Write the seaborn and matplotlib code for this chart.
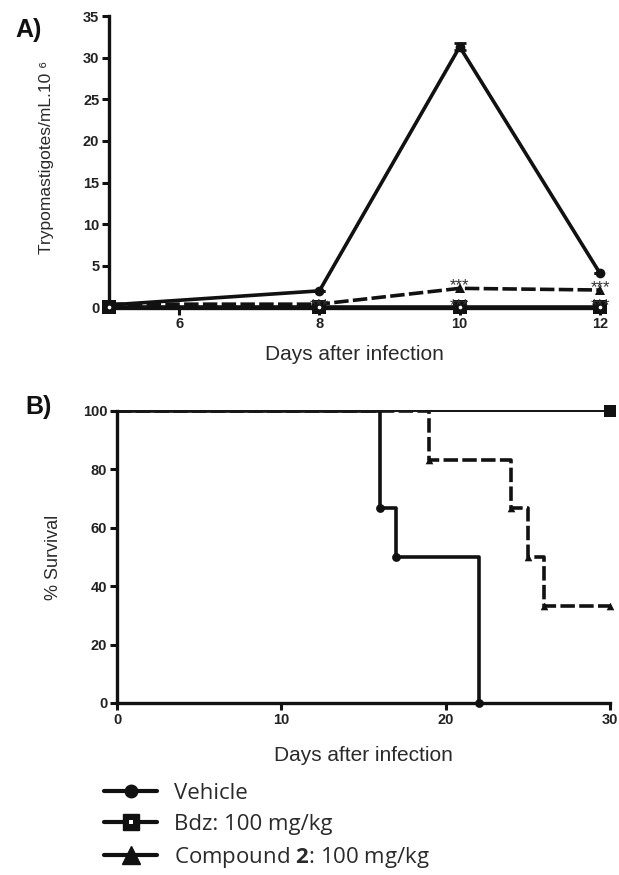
import numpy as np
import pandas as pd
import matplotlib
matplotlib.use("Agg")
import matplotlib.pyplot as plt
import seaborn as sns
from matplotlib.lines import Line2D
from matplotlib.patches import Rectangle

# ---------------- data ----------------
days_a = [5, 8, 10, 12]
vehicle_a = [0.3, 2.0, 31.3, 4.1]
vehicle_err = [0.0, 0.0, 0.4, 0.0]
bdz_a = [0.05, 0.05, 0.05, 0.05]
compound_a = [0.4, 0.4, 2.3, 2.1]
star_days_bdz = [8, 10, 12]
star_days_comp = [10, 12]

surv_vehicle_t = [0, 16, 17, 22]
surv_vehicle = [100, 66.7, 50, 0]
surv_bdz_t = [0, 30]
surv_bdz = [100, 100]
surv_comp_t = [0, 19, 24, 25, 26, 30]
surv_comp = [100, 83.3, 66.7, 50, 33.3, 33.3]

xticks_a = [6, 8, 10, 12]
yticks_a = [0, 5, 10, 15, 20, 25, 30, 35]
xticks_b = [0, 10, 20, 30]
yticks_b = [0, 20, 40, 60, 80, 100]

legend_labels = ["Vehicle", "Bdz: 100 mg/kg", "Compound $\\mathbf{2}$: 100 mg/kg"]

# ---------------- style ----------------
sns.set_theme(style="ticks")
plt.rcParams["font.family"] = ["Liberation Sans", "DejaVu Sans"]
plt.rcParams["mathtext.fontset"] = "custom"
plt.rcParams["mathtext.rm"] = "Open Sans"
plt.rcParams["mathtext.bf"] = "Open Sans:bold"
INK = "#111111"
LAB = "#2a2a2a"
STAR = "#333333"

fig = plt.figure(figsize=(6.19, 8.75), dpi=100)
W, H = 619, 875
axA = fig.add_axes([109 / W, 1 - 307.5 / H, (600 - 109) / W, (307.5 - 16) / H])
axB = fig.add_axes([117 / W, 1 - 703 / H, (610 - 117) / W, (703 - 411) / H])

# ---------------- panel A ----------------
sns.lineplot(x=days_a, y=bdz_a, ax=axA, color=INK, lw=2.6, marker="s",
             markersize=10, markeredgewidth=0, clip_on=False, zorder=4)
sns.scatterplot(x=days_a, y=bdz_a, ax=axA, color="white", marker="o", s=7,
                linewidth=0, clip_on=False, zorder=6)
sns.lineplot(x=days_a, y=compound_a, ax=axA, color=INK, lw=2.6, marker="^",
             markersize=7, markeredgewidth=0, linestyle=(0, (4, 1.2)),
             clip_on=False, zorder=3)
sns.lineplot(x=days_a, y=vehicle_a, ax=axA, color=INK, lw=2.6, marker="o",
             markersize=7, markeredgewidth=0, clip_on=False, zorder=3)
axA.errorbar(days_a, vehicle_a, yerr=vehicle_err, fmt="none", ecolor=INK,
             elinewidth=2, capsize=4, capthick=2, zorder=3)

for d in star_days_bdz:
    i = days_a.index(d)
    axA.annotate("***", (d, bdz_a[i]), xytext=(0, -2.5), textcoords="offset points",
                 ha="center", va="baseline", fontsize=12, color=STAR, zorder=7)
for d in star_days_comp:
    i = days_a.index(d)
    axA.annotate("***", (d, compound_a[i]), xytext=(0, -1.5),
                 textcoords="offset points", ha="center", va="baseline",
                 fontsize=12, color=STAR, zorder=7)

axA.set_xlim(5, 12)
axA.set_ylim(0, 35)
axA.set_xticks(xticks_a)
axA.set_yticks(yticks_a)
axA.set_xlabel("Days after infection", fontsize=15, color=LAB, labelpad=10)
axA.set_ylabel("Trypomastigotes/mL.10 \u2076", fontsize=12.5, color=LAB)
axA.yaxis.set_label_coords(-0.112, 0.514)

# ---------------- panel B ----------------
clip_top = Rectangle((-5, -10), 40, 109.5, transform=axB.transData)

sns.lineplot(x=surv_comp_t, y=surv_comp, ax=axB, color=INK, lw=2.6,
             drawstyle="steps-post", estimator=None, linestyle=(0, (4, 1.2)),
             zorder=3)
sns.lineplot(x=surv_vehicle_t, y=surv_vehicle, ax=axB, color=INK, lw=2.6,
             drawstyle="steps-post", estimator=None, zorder=3)
for ln in axB.lines:
    ln.set_clip_on(True)
    ln.set_clip_path(clip_top)
sns.lineplot(x=surv_bdz_t, y=surv_bdz, ax=axB, color=INK, lw=1.4,
             drawstyle="steps-post", estimator=None, clip_on=False, zorder=4)
sns.scatterplot(x=surv_bdz_t[-1:], y=surv_bdz[-1:], ax=axB, color=INK,
                marker="s", s=70, linewidth=0, clip_on=False, zorder=5)
sns.scatterplot(x=surv_comp_t[1:], y=surv_comp[1:], ax=axB, color=INK,
                marker="^", s=30, linewidth=0, clip_on=False, zorder=5)
sns.scatterplot(x=surv_vehicle_t[1:], y=surv_vehicle[1:], ax=axB, color=INK,
                marker="o", s=40, linewidth=0, clip_on=False, zorder=5)

axB.set_xlim(0, 30)
axB.set_ylim(0, 100)
axB.set_xticks(xticks_b)
axB.set_yticks(yticks_b)
axB.set_xlabel("Days after infection", fontsize=15, color=LAB, labelpad=14)
axB.set_ylabel("% Survival", fontsize=13, color=LAB)
axB.yaxis.set_label_coords(-0.112, 0.5)

for ax in (axA, axB):
    sns.despine(ax=ax)
    for s in ("left", "bottom"):
        ax.spines[s].set_linewidth(2.4)
        ax.spines[s].set_color(INK)
    ax.tick_params(direction="out", length=5, width=2.2, color=INK,
                   labelsize=10.5, labelcolor="#222222", pad=2)
    for lbl in ax.get_xticklabels() + ax.get_yticklabels():
        lbl.set_fontweight("bold")

fig.text(15 / W, 1 - 30 / H, "A)", fontsize=18, fontweight="bold", va="center", color=INK)
fig.text(25 / W, 1 - 407 / H, "B)", fontsize=18, fontweight="bold", va="center", color=INK)

# ---------------- legend ----------------
h_vehicle = Line2D([], [], color=INK, lw=3, marker="o", markersize=9)
h_bdz = (Line2D([], [], color=INK, lw=3, marker="s", markersize=11),
         Line2D([], [], ls="none", marker="s", markersize=3,
                markerfacecolor="white", markeredgewidth=0))
h_comp = Line2D([], [], color=INK, lw=3, marker="^", markersize=13)
leg = fig.legend([h_vehicle, h_bdz, h_comp], legend_labels, loc="upper left",
                 bbox_to_anchor=(104 / W, 1 - 783 / H), frameon=False,
                 borderpad=0, borderaxespad=0, handlelength=2.4,
                 handletextpad=0.75, labelspacing=0.45,
                 prop={"family": ["Open Sans", "DejaVu Sans"], "size": 16})
for t in leg.get_texts():
    t.set_color(LAB)

fig.savefig("out.png", dpi=100)
